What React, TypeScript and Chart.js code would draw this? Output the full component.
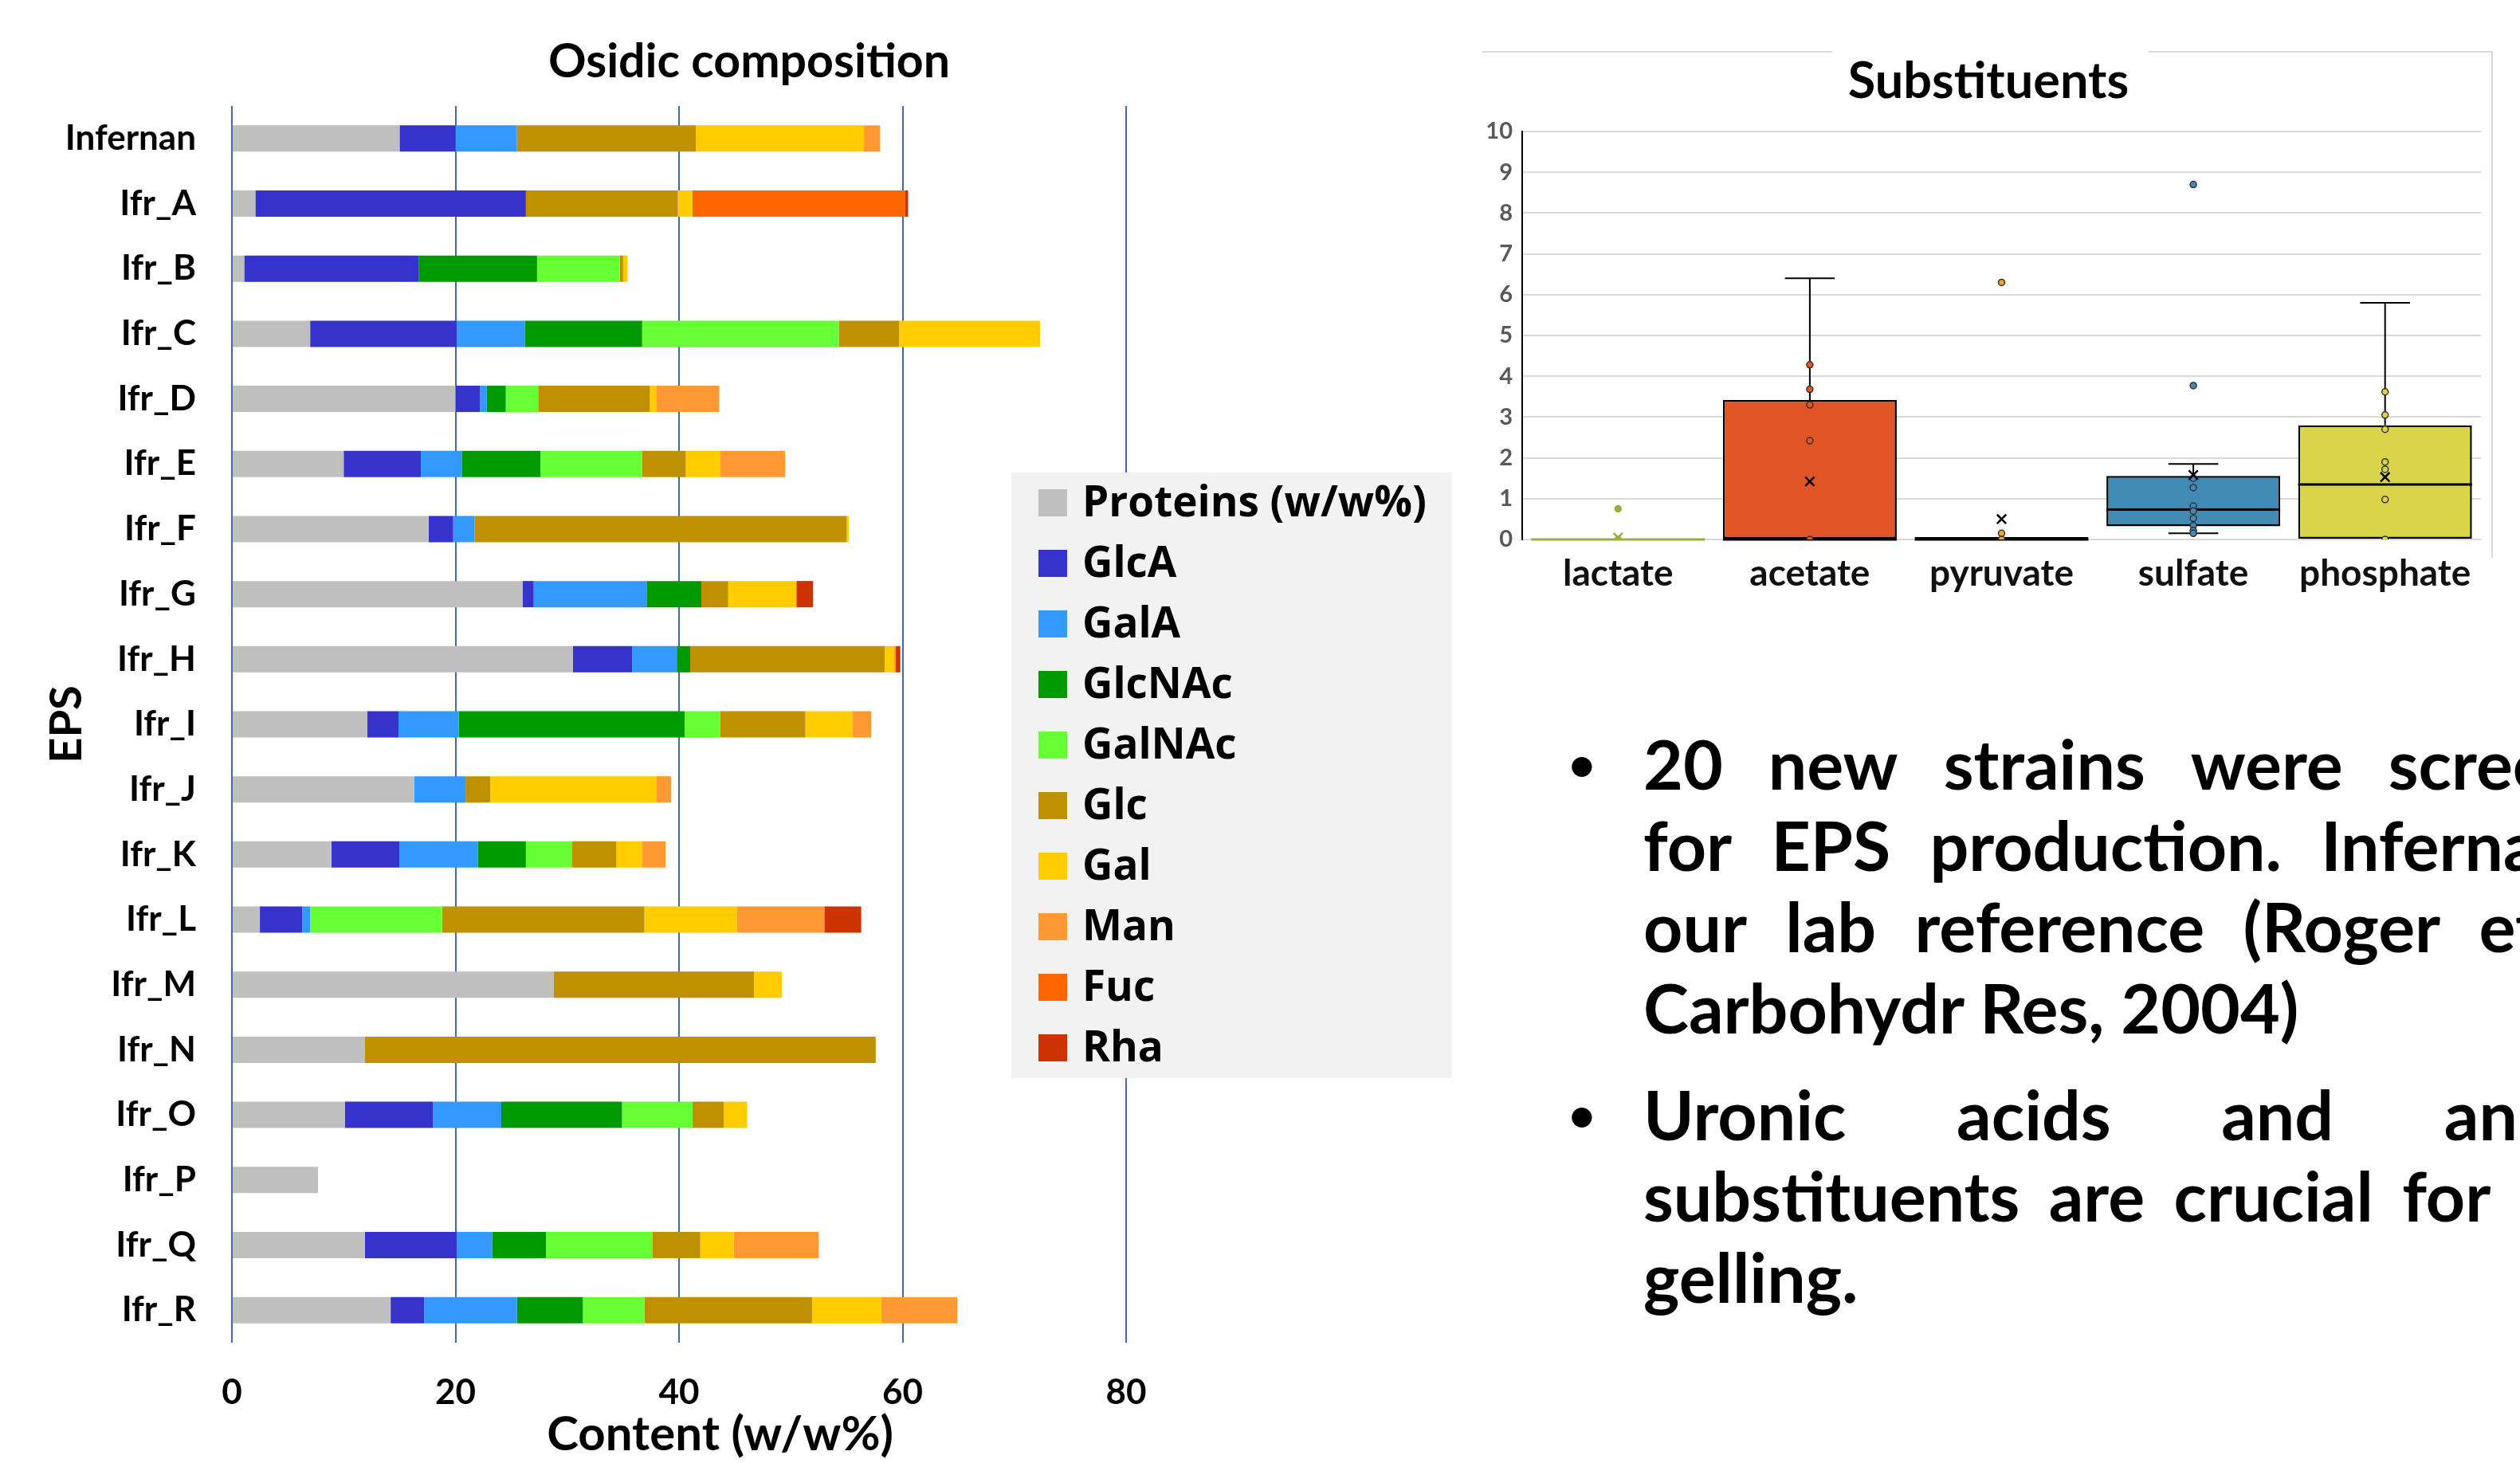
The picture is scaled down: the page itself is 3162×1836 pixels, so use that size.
import React, { useEffect, useRef } from 'react';
import { Chart, registerables } from 'chart.js';

Chart.register(...registerables);
Chart.defaults.font.family = 'Lato';
Chart.defaults.color = '#000';

// ---------- Osidic composition (stacked horizontal bars) ----------
const strains = ['Infernan', 'Ifr_A', 'Ifr_B', 'Ifr_C', 'Ifr_D', 'Ifr_E', 'Ifr_F', 'Ifr_G', 'Ifr_H', 'Ifr_I', 'Ifr_J', 'Ifr_K', 'Ifr_L', 'Ifr_M', 'Ifr_N', 'Ifr_O', 'Ifr_P', 'Ifr_Q', 'Ifr_R'];
const proteins = [15.0, 2.1, 1.1, 7.0, 20.0, 10.0, 17.6, 26.0, 30.5, 12.1, 16.3, 8.9, 2.5, 28.8, 11.9, 10.1, 7.7, 11.9, 14.2];
const glcA = [5.0, 24.2, 15.6, 13.1, 2.2, 6.9, 2.2, 1.0, 5.3, 2.8, 0, 6.1, 3.8, 0, 0, 7.9, 0, 8.2, 3.0];
const galA = [5.5, 0, 0, 6.1, 0.6, 3.7, 1.9, 10.1, 4.0, 5.4, 4.6, 7.0, 0.7, 0, 0, 6.1, 0, 3.2, 8.3];
const glcNAc = [0, 0, 10.6, 10.5, 1.7, 7.0, 0, 4.9, 1.2, 20.2, 0, 4.3, 0, 0, 0, 10.8, 0, 4.8, 5.9];
const galNAc = [0, 0, 7.4, 17.6, 2.9, 9.1, 0, 0, 0, 3.2, 0, 4.1, 11.8, 0, 0, 6.3, 0, 9.5, 5.5];
const glc = [16.0, 13.6, 0.3, 5.4, 10.0, 3.9, 33.3, 2.4, 17.4, 7.6, 2.2, 4.0, 18.1, 17.9, 45.7, 2.8, 0, 4.3, 15.0];
const gal = [15.0, 1.3, 0.4, 12.6, 0.6, 3.1, 0.2, 6.1, 0.8, 4.2, 14.9, 2.3, 8.3, 2.5, 0, 2.1, 0, 3.0, 6.2];
const man = [1.5, 0, 0, 0, 5.6, 5.8, 0, 0, 0.2, 1.7, 1.3, 2.1, 7.8, 0, 0, 0, 0, 7.6, 6.8];
const fuc = [0, 19.0, 0, 0, 0, 0, 0, 0, 0, 0, 0, 0, 0, 0, 0, 0, 0, 0, 0];
const rha = [0, 0.3, 0, 0, 0, 0, 0, 1.5, 0.4, 0, 0, 0, 3.3, 0, 0, 0, 0, 0, 0];
const compLabels = ['Proteins (w/w%)', 'GlcA', 'GalA', 'GlcNAc', 'GalNAc', 'Glc', 'Gal', 'Man', 'Fuc', 'Rha'];
const compSeries = [proteins, glcA, galA, glcNAc, galNAc, glc, gal, man, fuc, rha];
const compColors = ['#BFBFBF', '#3533CC', '#3399FF', '#009900', '#66FF33', '#BF9000', '#FFCC00', '#FF9933', '#FF6600', '#CC3300'];
const contentTicks = [0, 20, 40, 60, 80];
const contentTitle = 'Content (w/w%)';

// ---------- Substituents (box plot) ----------
const substituents = ['lactate', 'acetate', 'pyruvate', 'sulfate', 'phosphate'];
const boxMin = [0, 0, 0, 0.15, 0];
const boxQ1 = [0, 0, 0, 0.32, 0];
const boxMedian = [0, 0, 0, 0.73, 1.35];
const boxQ3 = [0, 3.42, 0.06, 1.56, 2.8];
const boxMax = [0, 6.4, 0.06, 1.85, 5.8];
const boxMean = [0.05, 1.42, 0.5, 1.58, 1.53];
const lactatePoints = [0.75, 0];
const acetatePoints = [4.28, 3.68, 3.3, 2.42, 0];
const pyruvatePoints = [6.3, 0.15, 0];
const sulfatePoints = [8.7, 3.77, 1.5, 1.27, 0.82, 0.7, 0.52, 0.34, 0.22, 0.15];
const phosphatePoints = [3.62, 3.05, 2.7, 1.9, 1.72, 0.98, 0];
const pointSeries = [lactatePoints, acetatePoints, pyruvatePoints, sulfatePoints, phosphatePoints];
const boxFill = ['#9BAF3C', '#E05426', '#F2A23A', '#418AB3', '#D9D44A'];
const boxEdge = ['#9BAF3C', '#000000', '#000000', '#000000', '#000000'];
const pointEdge = ['#9BAF3C', '#333333', '#333333', '#333333', '#333333'];
const meanEdge = ['#9BAF3C', '#000000', '#000000', '#000000', '#000000'];

// ---------- Bullet text ----------
const bullet1Lines = ['20 new strains were screened', 'for EPS production. Infernan is', 'our lab reference (Roger et al.,', 'Carbohydr Res, 2004)'];
const bullet2Lines = ['Uronic acids and anionic', 'substituents are crucial for their', 'gelling.'];

const legendPlugin = {
  id: 'compLegend',
  afterDraw(chart: any) {
    const ctx = chart.ctx;
    ctx.save();
    // x-axis title, slightly right of the plot centre as in the original
    ctx.fillStyle = '#000';
    ctx.font = 'bold 60px Lato';
    ctx.textAlign = 'center';
    ctx.textBaseline = 'middle';
    ctx.fillText(contentTitle, chart.chartArea.left + (chart.chartArea.right - chart.chartArea.left) * 0.546, 1801);
    // legend box
    ctx.fillStyle = '#F2F2F2';
    ctx.fillRect(1269, 593, 553, 760);
    ctx.font = 'bold 53px "Open Sans"';
    ctx.textBaseline = 'middle';
    ctx.textAlign = 'left';
    chart.data.datasets.forEach((ds: any, i: number) => {
      const yc = 631 + i * 76;
      ctx.fillStyle = ds.backgroundColor;
      ctx.fillRect(1303, yc - 17, 36, 34);
      ctx.fillStyle = '#000';
      ctx.fillText(ds.label, 1358, yc + 2);
    });
    ctx.restore();
  },
};

const boxPlugin = {
  id: 'boxParts',
  beforeDraw(chart: any) {
    const ctx = chart.ctx;
    ctx.save();
    ctx.font = 'bold 63px Lato';
    const tw = ctx.measureText('Substituents').width;
    const cx = chart.width / 2;
    ctx.strokeStyle = '#D9D9D9';
    ctx.lineWidth = 2;
    ctx.beginPath();
    ctx.moveTo(20, 25);
    ctx.lineTo(cx - tw / 2 - 20, 25);
    ctx.moveTo(cx + tw / 2 + 25, 25);
    ctx.lineTo(1287, 25);
    ctx.lineTo(1287, 660);
    ctx.stroke();
    ctx.restore();
  },
  afterDatasetDraw(chart: any, args: any) {
    if (args.index !== 0) return;
    const ctx = chart.ctx;
    const x = chart.scales.x;
    const y = chart.scales.y;
    const meta = chart.getDatasetMeta(0);
    const capHalf = (x.width / substituents.length) * 0.13;
    ctx.save();
    substituents.forEach((_s, i) => {
      const bar = meta.data[i];
      const cx = x.getPixelForValue(i);
      const half = bar.width / 2;
      ctx.strokeStyle = '#000';
      ctx.lineWidth = 2;
      ctx.beginPath();
      if (boxMax[i] > boxQ3[i]) {
        ctx.moveTo(cx, y.getPixelForValue(boxQ3[i]));
        ctx.lineTo(cx, y.getPixelForValue(boxMax[i]));
        ctx.moveTo(cx - capHalf, y.getPixelForValue(boxMax[i]));
        ctx.lineTo(cx + capHalf, y.getPixelForValue(boxMax[i]));
      }
      if (boxMin[i] < boxQ1[i]) {
        ctx.moveTo(cx, y.getPixelForValue(boxQ1[i]));
        ctx.lineTo(cx, y.getPixelForValue(boxMin[i]));
        ctx.moveTo(cx - capHalf, y.getPixelForValue(boxMin[i]));
        ctx.lineTo(cx + capHalf, y.getPixelForValue(boxMin[i]));
      }
      ctx.stroke();
      ctx.strokeStyle = boxEdge[i];
      ctx.lineWidth = 3;
      ctx.beginPath();
      const my = y.getPixelForValue(boxMedian[i]);
      ctx.moveTo(cx - half, my);
      ctx.lineTo(cx + half, my);
      ctx.stroke();
    });
    ctx.restore();
  },
};

function CompositionChart() {
  const ref = useRef<HTMLCanvasElement>(null);
  useEffect(() => {
    const chart = new Chart(ref.current!, {
      type: 'bar',
      data: {
        labels: strains,
        datasets: compSeries.map((s, i) => ({
          label: compLabels[i],
          data: s,
          backgroundColor: compColors[i],
          borderWidth: 0,
          barPercentage: 0.404,
          categoryPercentage: 1,
        })),
      },
      options: {
        indexAxis: 'y',
        animation: false,
        responsive: true,
        maintainAspectRatio: false,
        layout: { padding: 0 },
        plugins: {
          legend: { display: false },
          tooltip: { enabled: false },
          title: {
            display: true,
            text: 'Osidic composition',
            color: '#000',
            font: { family: 'Lato', weight: 'bold', size: 59, lineHeight: 1.2 },
            padding: { top: 42.6, bottom: 19.6 },
          },
        },
        scales: {
          x: {
            type: 'linear',
            stacked: true,
            min: contentTicks[0],
            max: contentTicks[contentTicks.length - 1],
            afterBuildTicks: (s: any) => { s.ticks = contentTicks.map((v) => ({ value: v })); },
            ticks: { padding: 36, color: '#000', font: { family: 'Lato', weight: 'bold', size: 44, lineHeight: 1.2 } },
            grid: { color: '#4169B0', lineWidth: 2, drawTicks: false },
            border: { display: false },
            title: { display: false, text: contentTitle },
            afterFit: (s: any) => { s.height = 151; },
          },
          y: {
            type: 'category',
            stacked: true,
            grid: { display: false, drawTicks: false },
            border: { display: false },
            ticks: { padding: 45, autoSkip: false, color: '#000', font: { family: 'Lato', weight: 'bold', size: 44 } },
            title: { display: true, text: 'EPS', color: '#000', font: { family: 'Lato', weight: 'bold', size: 56, lineHeight: 1.2 }, padding: { top: 50, bottom: 0 } },
            afterFit: (s: any) => { s.width = 291; },
          },
          yRight: {
            type: 'linear',
            position: 'right',
            display: true,
            grid: { display: false, drawTicks: false },
            border: { display: false },
            ticks: { display: false },
            afterFit: (s: any) => { s.width = 467; },
          },
        },
      } as any,
      plugins: [legendPlugin],
    });
    return () => chart.destroy();
  }, []);
  return <canvas ref={ref} />;
}

function BoxChart() {
  const ref = useRef<HTMLCanvasElement>(null);
  useEffect(() => {
    const datasets: any[] = [
      {
        type: 'bar',
        label: 'box',
        data: substituents.map((_s, i) => [boxQ1[i], boxQ3[i]]),
        backgroundColor: boxFill,
        borderColor: boxEdge,
        borderWidth: 2.5,
        borderSkipped: false,
        categoryPercentage: 0.906,
        barPercentage: 1,
        grouped: false,
        order: 3,
      },
    ];
    pointSeries.forEach((pts, i) => {
      datasets.push({
        type: 'line',
        label: substituents[i],
        data: pts.map((v) => ({ x: substituents[i], y: v })),
        showLine: false,
        pointRadius: 4,
        pointBackgroundColor: boxFill[i],
        pointBorderColor: pointEdge[i],
        pointBorderWidth: 1.5,
        order: 1,
      });
    });
    datasets.push({
      type: 'line',
      label: 'mean',
      data: substituents.map((s, i) => ({ x: s, y: boxMean[i] })),
      showLine: false,
      pointStyle: 'crossRot',
      pointRadius: 8,
      pointBorderWidth: 2.5,
      pointBorderColor: meanEdge,
      order: 0,
    });
    const chart = new Chart(ref.current!, {
      type: 'bar',
      data: { labels: substituents, datasets },
      options: {
        animation: false,
        responsive: true,
        maintainAspectRatio: false,
        layout: { padding: 0 },
        plugins: {
          legend: { display: false },
          tooltip: { enabled: false },
          title: {
            display: true,
            text: 'Substituents',
            color: '#000',
            font: { family: 'Lato', weight: 'bold', size: 63, lineHeight: 1.2 },
            padding: { top: 25.2, bottom: 24.2 },
          },
        },
        scales: {
          x: {
            type: 'category',
            offset: true,
            grid: { display: false, drawTicks: false },
            border: { display: false },
            ticks: { padding: 16, color: '#111', font: { family: 'Lato', weight: 'bold', size: 46, lineHeight: 1.2 } },
            afterFit: (s: any) => { s.height = 103; },
          },
          y: {
            type: 'linear',
            min: 0,
            max: 10,
            ticks: { stepSize: 1, padding: 12, color: '#595959', font: { family: 'Lato', weight: 'bold', size: 29 } },
            grid: { color: '#D9D9D9', lineWidth: 2, drawTicks: false },
            border: { display: true, color: '#000', width: 2 },
            afterFit: (s: any) => { s.width = 70; },
          },
          yRight: {
            type: 'linear',
            position: 'right',
            display: true,
            grid: { display: false, drawTicks: false },
            border: { display: false },
            ticks: { display: false },
            afterFit: (s: any) => { s.width = 37; },
          },
        },
      } as any,
      plugins: [boxPlugin],
    });
    return () => chart.destroy();
  }, []);
  return <canvas ref={ref} />;
}

const lineFont: React.CSSProperties = {
  fontFamily: 'Lato',
  fontWeight: 700,
  fontSize: 86,
  lineHeight: '102px',
  height: 102,
  color: '#000',
  whiteSpace: 'nowrap',
};

function JustLine({ text, width, top }: { text: string; width: number; top: number }) {
  const words = text.split(' ');
  return (
    <div style={{ ...lineFont, position: 'absolute', left: 2062, top, width, display: 'flex', justifyContent: 'space-between' }}>
      {words.map((w, i) => (
        <span key={i}>{i < words.length - 1 ? w + ' ' : w}</span>
      ))}
    </div>
  );
}

function PlainLine({ text, top }: { text: string; top: number }) {
  return <div style={{ ...lineFont, position: 'absolute', left: 2062, top }}>{text}</div>;
}

function Bullet({ top, lines, width, justified }: { top: number; lines: string[]; width: number; justified: boolean[] }) {
  return (
    <div style={{ position: 'absolute', left: 0, top, width: 3162 }}>
      <div style={{ ...lineFont, position: 'absolute', left: 1968, top: 0, fontSize: 58 }}>•</div>
      {lines.map((ln, i) =>
        justified[i] ? (
          <JustLine key={i} text={ln} width={width} top={i * 102} />
        ) : (
          <PlainLine key={i} text={ln} top={i * 102} />
        )
      )}
    </div>
  );
}

export default function App() {
  return (
    <div style={{ position: 'fixed', left: 0, top: 0, width: 3162, height: 1836, overflow: 'hidden', background: '#fff' }}>
      <div style={{ position: 'absolute', left: 0, top: 0, width: 1880, height: 1836 }}>
        <CompositionChart />
      </div>
      <div style={{ position: 'absolute', left: 1840, top: 40, width: 1310, height: 740 }}>
        <BoxChart />
      </div>
      <Bullet top={907} lines={bullet1Lines} width={1280} justified={[true, true, true, false]} />
      <Bullet top={1347} lines={bullet2Lines} width={1280} justified={[true, true, false]} />
    </div>
  );
}
